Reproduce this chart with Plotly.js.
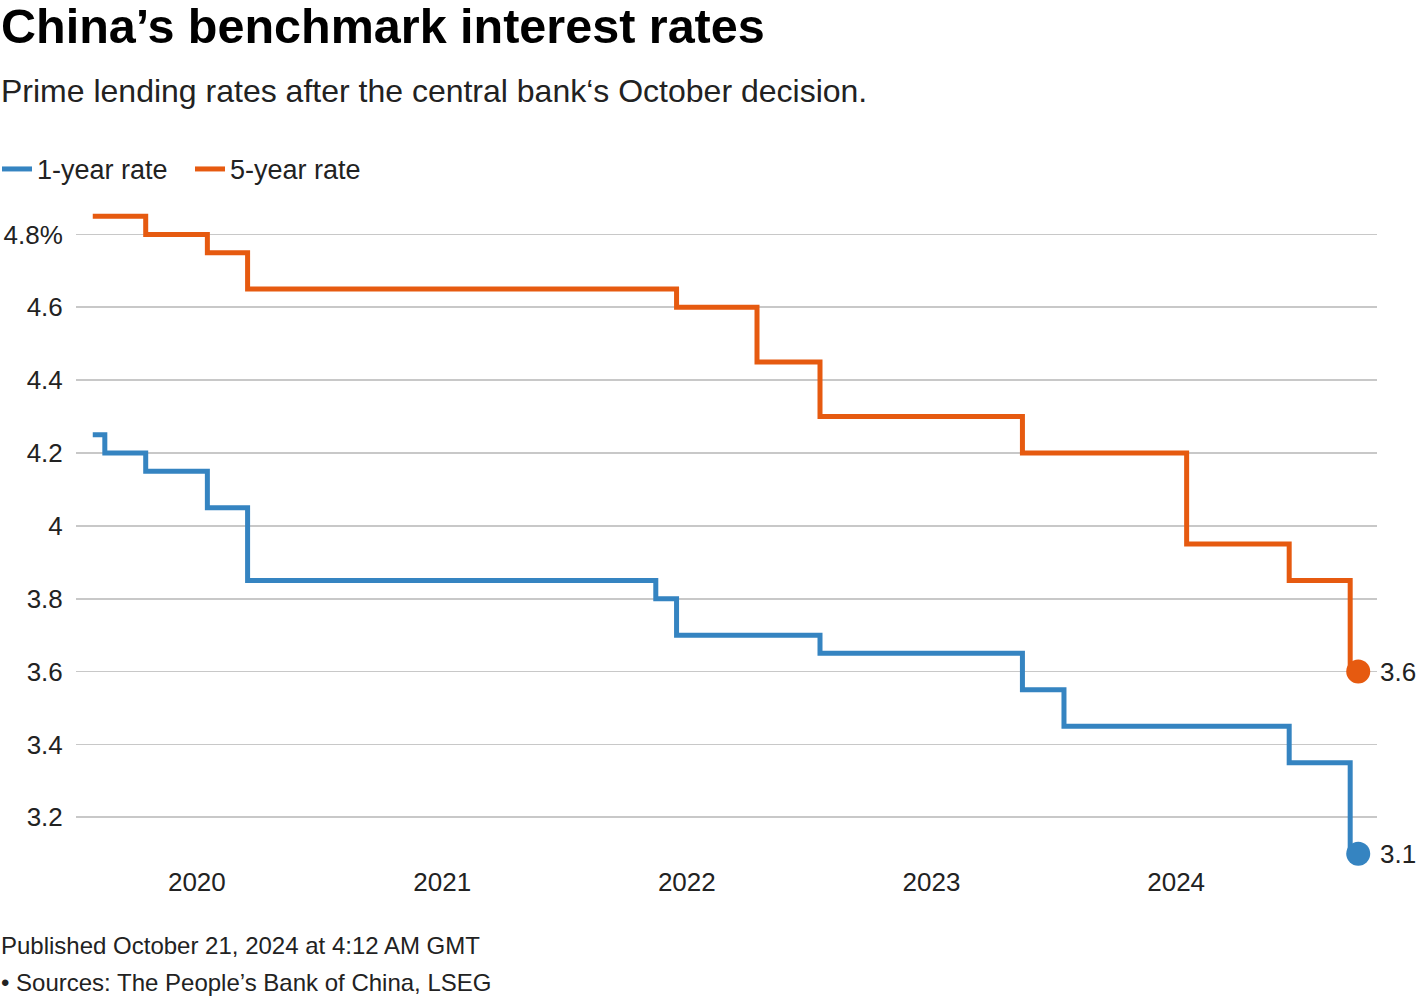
<!DOCTYPE html>
<html>
<head>
<meta charset="utf-8">
<script src="https://cdn.plot.ly/plotly-3.0.1.min.js"></script>
<style>html,body{margin:0;padding:0;background:#fff;}#chart{width:1420px;height:1000px;}</style>
</head>
<body>
<div id="chart"></div>
<script>
// ---- data ----
const dates1 = ['2019-09-02','2019-09-20','2019-11-20','2020-02-20','2020-04-20','2021-12-20','2022-01-20','2022-08-22','2023-06-20','2023-08-21','2024-07-22','2024-10-21','2024-11-02'];
const rate1  = [4.25,4.20,4.15,4.05,3.85,3.80,3.70,3.65,3.55,3.45,3.35,3.10,3.10];
const dates5 = ['2019-09-02','2019-11-20','2020-02-20','2020-04-20','2022-01-20','2022-05-20','2022-08-22','2023-06-20','2024-02-20','2024-07-22','2024-10-21','2024-11-02'];
const rate5  = [4.85,4.80,4.75,4.65,4.60,4.45,4.30,4.20,3.95,3.85,3.60,3.60];
const seriesNames = ['1-year rate','5-year rate'];
const yTickVals = [3.2,3.4,3.6,3.8,4.0,4.2,4.4,4.6,4.8];
const yTickText = ['3.2','3.4','3.6','3.8','4','4.2','4.4','4.6','4.8%'];
const xTickVals = ['2020-01-01','2021-01-01','2022-01-01','2023-01-01','2024-01-01'];
const xTickText = ['2020','2021','2022','2023','2024'];
const lastLabel1 = '3.1';
const lastLabel5 = '3.6';

// ---- styles ----
const BLUE = '#3584c1';
const ORANGE = '#e65a10';
const FONT = 'Liberation Sans, Arial, Helvetica, sans-serif';
const TXT = '#222222';

const L = 76, R = 43, T = 197.6, B = 139.3;
const W = 1420, H = 1000;
const pw = W - L - R, ph = H - T - B;
const px = v => (v - L) / pw;
const py = v => (H - B - v) / ph;

const last = a => a[a.length - 1];

const traces = [
  {x: dates1, y: rate1, name: seriesNames[0], type: 'scatter', mode: 'lines',
   line: {color: BLUE, width: 5, shape: 'hv'}, hoverinfo: 'skip'},
  {x: dates5, y: rate5, name: seriesNames[1], type: 'scatter', mode: 'lines',
   line: {color: ORANGE, width: 5, shape: 'hv'}, hoverinfo: 'skip'},
  {x: [last(dates1)], y: [last(rate1)], type: 'scatter', mode: 'markers', showlegend: false,
   cliponaxis: false, marker: {color: BLUE, size: 24}, hoverinfo: 'skip'},
  {x: [last(dates5)], y: [last(rate5)], type: 'scatter', mode: 'markers', showlegend: false,
   cliponaxis: false, marker: {color: ORANGE, size: 24}, hoverinfo: 'skip'}
];

const layout = {
  width: W, height: H,
  margin: {l: L, r: R, t: T, b: B, pad: 0, autoexpand: false},
  paper_bgcolor: '#fff', plot_bgcolor: '#fff',
  font: {family: FONT, color: TXT, size: 26},
  showlegend: true,
  legend: {orientation: 'h', x: px(-3), xanchor: 'left', y: py(169), yanchor: 'middle',
           font: {size: 27, color: TXT}, traceorder: 'normal', itemwidth: 30,
           entrywidth: 148, entrywidthmode: 'pixels', bgcolor: 'rgba(0,0,0,0)'},
  xaxis: {type: 'date', range: ['2019-08-08', '2024-11-30'], showgrid: false, zeroline: false,
          showline: false, tickmode: 'array', tickvals: xTickVals, ticktext: xTickText,
          ticks: '', ticklabelstandoff: 3, ticklabelshift: 23, automargin: false,
          tickfont: {size: 26, color: TXT}, fixedrange: true},
  yaxis: {range: [3.08, 4.9], showgrid: true, gridcolor: '#c8c8c8', gridwidth: 1.6,
          zeroline: false, showline: false, tickmode: 'array', tickvals: yTickVals, ticktext: yTickText,
          ticks: 'outside', ticklen: 7, tickcolor: 'rgba(0,0,0,0)', automargin: false,
          tickfont: {size: 26, color: TXT}, fixedrange: true},
  annotations: [
    {text: '<b>China’s benchmark interest rates</b>', xref: 'paper', yref: 'paper',
     x: px(-1), y: py(26), xanchor: 'left', yanchor: 'middle', showarrow: false,
     font: {size: 48.5, color: '#000', family: FONT}},
    {text: 'Prime lending rates after the central bank‘s October decision.', xref: 'paper', yref: 'paper',
     x: px(-1), y: py(91), xanchor: 'left', yanchor: 'middle', showarrow: false,
     font: {size: 32, color: TXT, family: FONT}},
    {text: 'Published October 21, 2024 at 4:12 AM GMT', xref: 'paper', yref: 'paper',
     x: px(-1), y: py(945), xanchor: 'left', yanchor: 'middle', showarrow: false,
     font: {size: 24, color: TXT, family: FONT}},
    {text: '• Sources: The People’s Bank of China, LSEG', xref: 'paper', yref: 'paper',
     x: px(-1), y: py(982), xanchor: 'left', yanchor: 'middle', showarrow: false,
     font: {size: 24, color: TXT, family: FONT}},
    {text: lastLabel5, x: last(dates5), y: last(rate5), xref: 'x', yref: 'y',
     xanchor: 'left', yanchor: 'middle', xshift: 20, showarrow: false,
     font: {size: 26, color: TXT, family: FONT}},
    {text: lastLabel1, x: last(dates1), y: last(rate1), xref: 'x', yref: 'y',
     xanchor: 'left', yanchor: 'middle', xshift: 20, showarrow: false,
     font: {size: 26, color: TXT, family: FONT}}
  ]
};

Plotly.newPlot('chart', traces, layout, {displayModeBar: false, staticPlot: true});
</script>
</body>
</html>
